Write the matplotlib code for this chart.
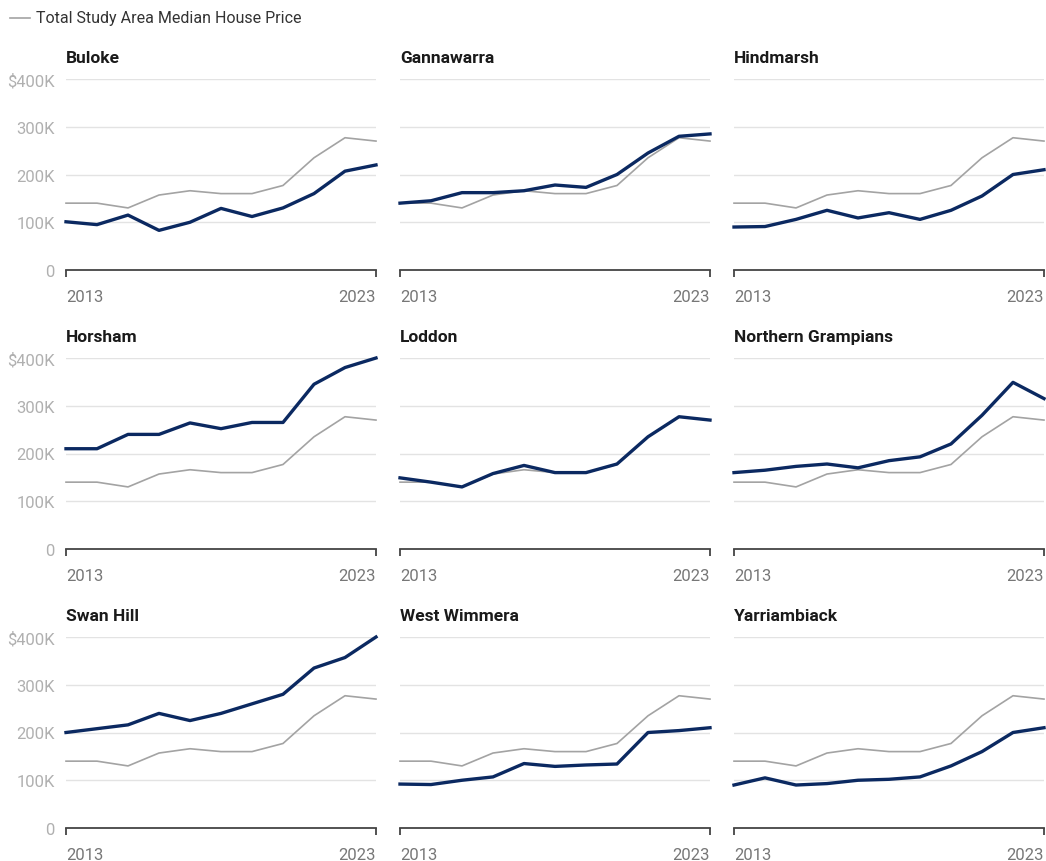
import matplotlib.pyplot as plt
from matplotlib.lines import Line2D

plt.rcParams['font.family'] = ['Roboto', 'DejaVu Sans']

years = list(range(2013, 2024))

# Total study area median (thousands of dollars)
total = [140, 140, 130, 157, 166, 160, 160, 177, 235, 277, 270]

regions = ['Buloke', 'Gannawarra', 'Hindmarsh',
           'Horsham', 'Loddon', 'Northern Grampians',
           'Swan Hill', 'West Wimmera', 'Yarriambiack']

buloke = [101, 95, 115, 83, 100, 129, 112, 130, 160, 207, 220]
gannawarra = [140, 145, 162, 162, 166, 178, 173, 200, 245, 280, 285]
hindmarsh = [90, 91, 106, 125, 109, 120, 106, 125, 155, 200, 210]
horsham = [210, 210, 240, 240, 264, 252, 265, 265, 345, 380, 400]
loddon = [149, 140, 130, 158, 175, 160, 160, 178, 235, 277, 270]
northern_grampians = [160, 165, 173, 178, 170, 185, 193, 220, 280, 349, 315]
swan_hill = [200, 208, 216, 240, 225, 240, 260, 280, 335, 357, 400]
west_wimmera = [92, 91, 100, 107, 135, 129, 132, 134, 200, 204, 210]
yarriambiack = [90, 105, 90, 93, 100, 102, 107, 130, 160, 200, 210]

series = [buloke, gannawarra, hindmarsh, horsham, loddon,
          northern_grampians, swan_hill, west_wimmera, yarriambiack]

ytick_vals = [0, 100, 200, 300, 400]
ytick_labels = ['0', '100K', '200K', '300K', '$400K']

W, H = 1046, 862
fig = plt.figure(figsize=(W / 100, H / 100), dpi=100)

col_left = [66, 400, 734]
row_bottom = [271, 550, 829]  # pixel y of zero line
ax_w, ax_h = 310, 191

navy = '#0b2961'
grey = '#a3a3a3'

for i, (name, vals) in enumerate(zip(regions, series)):
    r, c = divmod(i, 3)
    left = col_left[c] / W
    bottom = 1 - row_bottom[r] / H
    ax = fig.add_axes([left, bottom, ax_w / W, ax_h / H])

    ax.plot(years, total, color=grey, lw=1.2, clip_on=False, zorder=3)
    ax.plot(years, vals, color=navy, lw=2.4, clip_on=False, zorder=4,
            solid_joinstyle='round')

    ax.set_xlim(2013, 2023)
    ax.set_ylim(0, 400)

    for v in ytick_vals[1:]:
        ax.axhline(v, color='#e3e3e3', lw=1.0, zorder=1)

    ax.set_yticks(ytick_vals)
    if c == 0:
        ax.set_yticklabels(ytick_labels, color='#b0b0b0', fontsize=12)
    else:
        ax.set_yticklabels([])
    ax.tick_params(axis='y', length=0, pad=8)

    ax.set_xticks([2013, 2023])
    ax.set_xticklabels(['2013', '2023'], color='#777777', fontsize=12)
    xl = ax.get_xticklabels()
    xl[0].set_ha('left')
    xl[1].set_ha('right')
    ax.tick_params(axis='x', length=5, width=1.3, color='#444444',
                   direction='out', pad=9)

    for s in ['top', 'right', 'left']:
        ax.spines[s].set_visible(False)
    ax.spines['bottom'].set_color('#444444')
    ax.spines['bottom'].set_linewidth(1.3)

    ax.text(0, 1.075, name, transform=ax.transAxes, fontsize=12.5,
            fontweight='bold', color='#1a1a1a', ha='left', va='bottom')

# legend at top-left
fig.add_artist(Line2D([10 / W, 30 / W], [1 - 19 / H, 1 - 19 / H],
                      color=grey, lw=1.2))
fig.text(36 / W, 1 - 19 / H, 'Total Study Area Median House Price',
         fontsize=11.5, color='#333333', ha='left', va='center')

fig.savefig('out.png', dpi=100)
